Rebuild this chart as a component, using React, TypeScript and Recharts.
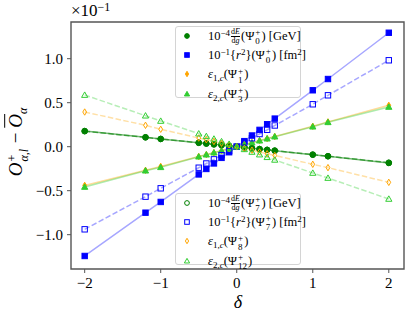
import React from 'react';
import {
    ComposedChart,
    Line,
    Scatter,
    XAxis,
    YAxis,
    ReferenceArea,
} from 'recharts';

// δ values used for every series
const deltas = [-2, -1.2, -1, -0.5, -0.4, -0.3, -0.2, -0.1, 0, 0.1, 0.2, 0.3, 0.4, 0.5, 1, 1.2, 2];

// filled markers (solid fits)
const dEdg0 = [0.178, 0.107, 0.088, 0.045, 0.036, 0.027, 0.018, 0.009, 0, -0.009, -0.018, -0.027, -0.036, -0.045, -0.091, -0.109, -0.185];
const r2State0 = [-1.242, -0.75, -0.628, -0.315, -0.253, -0.19, -0.127, -0.063, 0, 0.063, 0.127, 0.191, 0.255, 0.319, 0.641, 0.769, 1.295];
const eps1State1 = [-0.44, -0.268, -0.224, -0.112, -0.09, -0.068, -0.045, -0.023, 0, 0.023, 0.046, 0.069, 0.092, 0.115, 0.232, 0.282, 0.47];
const eps2State3 = [-0.458, -0.273, -0.234, -0.114, -0.091, -0.068, -0.045, -0.023, 0, 0.023, 0.045, 0.068, 0.091, 0.114, 0.227, 0.277, 0.451];

// hollow markers (dashed fits)
const dEdg7 = [0.176, 0.106, 0.088, 0.044, 0.035, 0.026, 0.018, 0.009, 0, -0.009, -0.018, -0.027, -0.036, -0.045, -0.09, -0.108, -0.182];
const r2State7 = [-0.939, -0.568, -0.473, -0.239, -0.191, -0.144, -0.096, -0.048, 0, 0.048, 0.096, 0.144, 0.192, 0.241, 0.482, 0.584, 0.982];
const eps1State8 = [0.394, 0.243, 0.198, 0.098, 0.079, 0.059, 0.039, 0.02, 0, -0.02, -0.04, -0.06, -0.08, -0.1, -0.2, -0.238, -0.405];
const eps2State12 = [0.587, 0.352, 0.292, 0.148, 0.118, 0.089, 0.059, 0.03, 0, -0.03, -0.06, -0.09, -0.12, -0.15, -0.299, -0.356, -0.594];

const xTicks = [-2, -1, 0, 1, 2];
const yTicks = [-1, -0.5, 0, 0.5, 1];

const GREEN = '#008000';
const BLUE = '#0000ff';
const ORANGE = '#ffa500';
const LIME = '#32cd32';
const FONT = '"Liberation Serif", "DejaVu Serif", serif';

type Kind = 'circle' | 'square' | 'diamond' | 'triangle';

const toPoints = (vals: number[]) => deltas.map((x, i) => ({ x, y: vals[i] }));

function Marker({ cx, cy, kind, color, filled, scale = 1 }: any) {
    const fill = filled ? color : 'none';
    const sw = 1;
    if (kind === 'circle') {
        const r = 2.8 * scale;
        return <circle cx={cx} cy={cy} r={r} fill={fill} stroke={color} strokeWidth={sw} />;
    }
    if (kind === 'square') {
        const s = 2.7 * scale;
        return <rect x={cx - s} y={cy - s} width={2 * s} height={2 * s} fill={fill} stroke={color} strokeWidth={sw} />;
    }
    if (kind === 'diamond') {
        const w = 1.9 * scale;
        const h = 3.2 * scale;
        return (
            <polygon
                points={`${cx},${cy - h} ${cx + w},${cy} ${cx},${cy + h} ${cx - w},${cy}`}
                fill={fill}
                stroke={color}
                strokeWidth={sw}
            />
        );
    }
    const t = 3.1 * scale;
    return (
        <polygon
            points={`${cx},${cy - t} ${cx + t},${cy + t * 0.75} ${cx - t},${cy + t * 0.75}`}
            fill={fill}
            stroke={color}
            strokeWidth={sw}
        />
    );
}

const series = [
    { key: 'a', vals: dEdg0, color: GREEN, kind: 'circle' as Kind, filled: true, lineOpacity: 0.55 },
    { key: 'b', vals: r2State0, color: BLUE, kind: 'square' as Kind, filled: true, lineOpacity: 0.35 },
    { key: 'c', vals: eps1State1, color: ORANGE, kind: 'diamond' as Kind, filled: true, lineOpacity: 0.4 },
    { key: 'd', vals: eps2State3, color: LIME, kind: 'triangle' as Kind, filled: true, lineOpacity: 0.4 },
    { key: 'e', vals: dEdg7, color: GREEN, kind: 'circle' as Kind, filled: false, lineOpacity: 0.55 },
    { key: 'f', vals: r2State7, color: BLUE, kind: 'square' as Kind, filled: false, lineOpacity: 0.35 },
    { key: 'g', vals: eps1State8, color: ORANGE, kind: 'diamond' as Kind, filled: false, lineOpacity: 0.35 },
    { key: 'h', vals: eps2State12, color: LIME, kind: 'triangle' as Kind, filled: false, lineOpacity: 0.35 },
];

function SubSup({ sub, sup, size = 9 }: { sub: React.ReactNode; sup: React.ReactNode; size?: number }) {
    return (
        <span
            style={{
                display: 'inline-flex',
                flexDirection: 'column',
                verticalAlign: 'middle',
                fontSize: size,
                lineHeight: `${size}px`,
                margin: '0 1px',
            }}
        >
            <span>{sup}</span>
            <span>{sub}</span>
        </span>
    );
}

function Psi({ n }: { n: string }) {
    return (
        <>
            (Ψ<SubSup sub={n} sup="+" />)
        </>
    );
}

const Sup = ({ children }: { children: React.ReactNode }) => (
    <sup style={{ fontSize: 9, verticalAlign: 4, lineHeight: 0 }}>{children}</sup>
);
const Sub = ({ children }: { children: React.ReactNode }) => (
    <sub style={{ fontSize: 9, verticalAlign: -3, lineHeight: 0 }}>{children}</sub>
);

function DEdg() {
    return (
        <span
            style={{
                display: 'inline-flex',
                flexDirection: 'column',
                verticalAlign: 'middle',
                fontSize: 8,
                lineHeight: '8px',
                textAlign: 'center',
                margin: '0 1px',
            }}
        >
            <span style={{ borderBottom: '0.6px solid #000', paddingBottom: 0.5 }}>
                d<i>E</i>
            </span>
            <span>
                d<i>g</i>
            </span>
        </span>
    );
}

const upperLabels: [Kind, string, boolean, React.ReactNode][] = [
    ['circle', GREEN, true, <>10<Sup>−4</Sup><DEdg /><Psi n="0" /> [GeV]</>],
    ['square', BLUE, true, <>10<Sup>−1</Sup>{'{'}<i>r</i><Sup>2</Sup>{'}'}<Psi n="0" /> [fm<Sup>2</Sup>]</>],
    ['diamond', ORANGE, true, <><i>ε</i><Sub>1,<i>c</i></Sub><Psi n="1" /></>],
    ['triangle', LIME, true, <><i>ε</i><Sub>2,<i>c</i></Sub><Psi n="3" /></>],
];

const lowerLabels: [Kind, string, boolean, React.ReactNode][] = [
    ['circle', GREEN, false, <>10<Sup>−4</Sup><DEdg /><Psi n="7" /> [GeV]</>],
    ['square', BLUE, false, <>10<Sup>−1</Sup>{'{'}<i>r</i><Sup>2</Sup>{'}'}<Psi n="7" /> [fm<Sup>2</Sup>]</>],
    ['diamond', ORANGE, false, <><i>ε</i><Sub>1,<i>c</i></Sub><Psi n="8" /></>],
    ['triangle', LIME, false, <><i>ε</i><Sub>2,<i>c</i></Sub><Psi n="12" /></>],
];

const rowCenters = [8.6, 28, 47.4, 66.5];

function LegendBox({ top, items }: { top: number; items: [Kind, string, boolean, React.ReactNode][] }) {
    return (
        <div
            style={{
                position: 'absolute',
                left: 175,
                top,
                width: 126,
                height: 72,
                border: '1px solid #d4d4d4',
                borderRadius: 3,
                background: 'rgba(255,255,255,0.8)',
                boxSizing: 'border-box',
                fontFamily: FONT,
                fontSize: 12.5,
                color: '#000',
            }}
        >
            {items.map(([kind, color, filled, label], i) => (
                <div
                    key={i}
                    style={{
                        position: 'absolute',
                        left: 0,
                        top: rowCenters[i] - 10,
                        height: 20,
                        width: 125,
                        whiteSpace: 'nowrap',
                    }}
                >
                    <svg width={12} height={12} style={{ position: 'absolute', left: 5, top: 4 }}>
                        <Marker cx={6} cy={6} kind={kind} color={color} filled={filled} scale={0.85} />
                    </svg>
                    <span style={{ position: 'absolute', left: 32, top: 0, lineHeight: '20px' }}>{label}</span>
                </div>
            ))}
        </div>
    );
}

const fmtY = (v: number) => (v < 0 ? '\u2212' : '') + Math.abs(v).toFixed(1);
const fmtX = (v: number) => (v < 0 ? '\u2212' : '') + Math.abs(v).toString();

export default function App() {
    const tickStyle = { fill: '#000', fontSize: 15, fontFamily: FONT };
    return (
        <div style={{ position: 'absolute', left: 0, top: 0, width: 411, height: 317, background: '#fff' }}>
            <ComposedChart width={411} height={317} margin={{ top: 22, right: 7, bottom: 0, left: 0 }}>
                <XAxis
                    type="number"
                    dataKey="x"
                    domain={[-2.18, 2.2]}
                    ticks={xTicks}
                    tickFormatter={fmtX}
                    allowDataOverflow
                    height={48}
                    axisLine={false}
                    tickLine={{ stroke: '#555', strokeWidth: 1 }}
                    tickSize={4}
                    tickMargin={4}
                    tick={tickStyle}
                />
                <YAxis
                    type="number"
                    dataKey="y"
                    domain={[-1.39, 1.417]}
                    ticks={yTicks}
                    tickFormatter={fmtY}
                    allowDataOverflow
                    width={71}
                    axisLine={false}
                    tickLine={{ stroke: '#555', strokeWidth: 1 }}
                    tickSize={4}
                    tickMargin={4}
                    tick={tickStyle}
                />
                <ReferenceArea
                    x1={-2.18}
                    x2={2.2}
                    y1={-1.39}
                    y2={1.417}
                    fill="none"
                    fillOpacity={0}
                    stroke="#555"
                    strokeWidth={1.4}
                    ifOverflow="extendDomain"
                />
                {series.map((s) => (
                    <Line
                        key={`l-${s.key}`}
                        data={toPoints(s.vals)}
                        dataKey="y"
                        type="linear"
                        stroke={s.color}
                        strokeOpacity={s.lineOpacity}
                        strokeWidth={1.5}
                        strokeDasharray={s.filled ? undefined : '5.5 2.4'}
                        dot={false}
                        activeDot={false}
                        isAnimationActive={false}
                    />
                ))}
                {series.map((s) => (
                    <Scatter
                        key={`s-${s.key}`}
                        data={toPoints(s.vals)}
                        dataKey="y"
                        isAnimationActive={false}
                        shape={(p: any) => (
                            <Marker cx={p.cx} cy={p.cy} kind={s.kind} color={s.color} filled={s.filled} />
                        )}
                    />
                ))}
            </ComposedChart>

            <LegendBox top={26} items={upperLabels} />
            <LegendBox top={193} items={lowerLabels} />

            <div style={{ position: 'absolute', left: 71, top: 2, fontFamily: FONT, fontSize: 17, whiteSpace: 'nowrap', lineHeight: '18px' }}>
                ×10<sup style={{ fontSize: 12, verticalAlign: 5, lineHeight: 0 }}>−1</sup>
            </div>

            <div
                style={{
                    position: 'absolute',
                    left: 17,
                    top: 142,
                    transform: 'translate(-50%, -50%) rotate(-90deg)',
                    fontFamily: FONT,
                    fontSize: 19,
                    whiteSpace: 'nowrap',
                    lineHeight: '24px',
                }}
            >
                <i>O</i>
                <SubSup sup="+" sub={<i>α,l</i>} size={12} /> − <i style={{ textDecoration: 'overline' }}>O</i>
                <sub style={{ fontSize: 12, lineHeight: 0 }}>
                    <i>α</i>
                </sub>
            </div>

            <div
                style={{
                    position: 'absolute',
                    left: 238,
                    top: 302,
                    transform: 'translate(-50%, -50%)',
                    fontFamily: FONT,
                    fontSize: 18,
                    fontStyle: 'italic',
                    lineHeight: '18px',
                }}
            >
                δ
            </div>
        </div>
    );
}
